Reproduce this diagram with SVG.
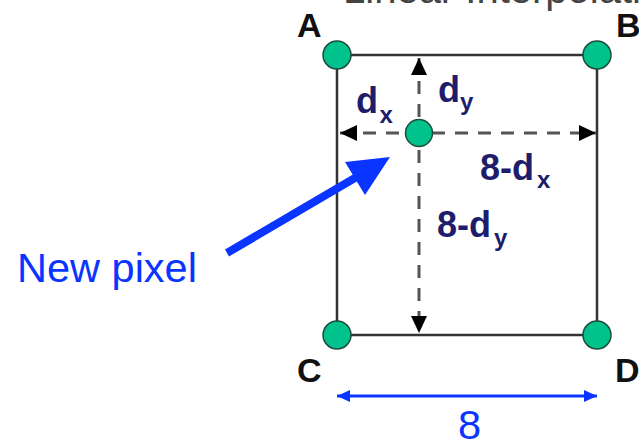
<svg xmlns="http://www.w3.org/2000/svg" width="639" height="440" viewBox="0 0 639 440">
  <style>
    .edge { stroke: #333; stroke-width: 2.5; fill: none; }
    .dash { stroke: #555; stroke-width: 3; stroke-dasharray: 13 10; fill: none; }
    .pt { fill: #00c28c; stroke: #1e4d3c; stroke-width: 1.5; }
    .corner { font-family: "Liberation Sans", Arial, sans-serif; font-weight: bold; font-size: 34px; fill: #111; }
    .lbl { font-family: "Liberation Sans", Arial, sans-serif; font-weight: bold; font-size: 36px; fill: #1d1d6b; }
    .sub { font-size: 24px; }
    .blue { font-family: "Liberation Sans", Arial, sans-serif; font-size: 41.5px; fill: #0a34ff; }
  </style>
  <defs>
    <marker id="blk" markerUnits="userSpaceOnUse" markerWidth="18" markerHeight="18" viewBox="0 0 18 18" refX="17" refY="8" orient="auto-start-reverse">
      <path d="M0,0 L17,8 L0,16 z" fill="#000"/>
    </marker>
    <marker id="blu" markerUnits="userSpaceOnUse" markerWidth="14" markerHeight="14" viewBox="0 0 14 14" refX="13" refY="6" orient="auto-start-reverse">
      <path d="M0,0 L13,6 L0,12 z" fill="#0a34ff"/>
    </marker>
  </defs>

  <text x="343" y="3" font-family="Liberation Sans, Arial, sans-serif" font-size="40" fill="#444">Linear Interpolation</text>

  <g id="connectors">
    <line class="edge" x1="337" y1="55" x2="597" y2="55"/>
    <line class="edge" x1="597" y1="55" x2="597" y2="335"/>
    <line class="edge" x1="337" y1="335" x2="597" y2="335"/>
    <line class="edge" x1="337" y1="55" x2="337" y2="335"/>
    <line class="dash" x1="419" y1="58" x2="419" y2="333" marker-start="url(#blk)" marker-end="url(#blk)"/>
    <line class="dash" x1="340" y1="133" x2="596" y2="133" marker-start="url(#blk)" marker-end="url(#blk)"/>
    <line x1="337" y1="396" x2="597" y2="396" stroke="#0a34ff" stroke-width="3" marker-start="url(#blu)" marker-end="url(#blu)"/>
    <g id="new-pixel-arrow">
      <line x1="227" y1="253" x2="360" y2="175" stroke="#0a34ff" stroke-width="8"/>
      <polygon points="390,157 345,162 365,195" fill="#0a34ff"/>
    </g>
  </g>

  <g id="A"><circle class="pt" cx="337" cy="55" r="14"/><text class="corner" x="297" y="37">A</text></g>
  <g id="B"><circle class="pt" cx="597" cy="55" r="14"/><text class="corner" x="616" y="37">B</text></g>
  <g id="C"><circle class="pt" cx="337" cy="335" r="14"/><text class="corner" x="297" y="382">C</text></g>
  <g id="D"><circle class="pt" cx="597" cy="335" r="14"/><text class="corner" x="615" y="382">D</text></g>
  <g id="P"><circle class="pt" cx="419" cy="133" r="13.5"/></g>

  <g id="labels">
    <text class="lbl" x="356" y="113" font-size="35">d<tspan class="sub" x="379.5" y="123" font-size="23">x</tspan></text>
    <text class="lbl" x="438" y="102" font-size="35">d<tspan class="sub" x="460" y="110">y</tspan></text>
    <text class="lbl" x="480" y="180" font-size="37">8-d<tspan class="sub" x="537" y="188">x</tspan></text>
    <text class="lbl" x="437" y="237" font-size="37">8-d<tspan class="sub" x="494" y="246">y</tspan></text>
  </g>

  <g id="new-pixel-label"><text class="blue" x="17" y="282">New pixel</text></g>
  <g id="width-label"><text class="blue" x="458" y="439" font-size="38">8</text></g>
</svg>
